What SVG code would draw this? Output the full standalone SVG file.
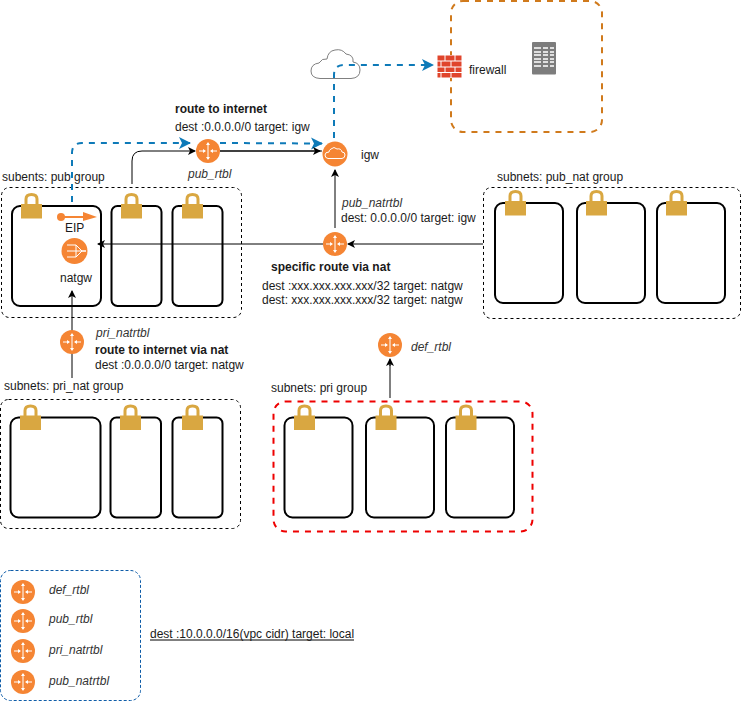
<svg xmlns="http://www.w3.org/2000/svg" xmlns:xlink="http://www.w3.org/1999/xlink" width="743" height="702" viewBox="0 0 743 702">
<style>
text{font-family:"Liberation Sans",Arial,sans-serif;font-size:12px;fill:#1a1a1a}
.i{font-style:italic;fill:#333}
.b{font-weight:bold}
.grp{fill:none;stroke:#000;stroke-width:1;stroke-dasharray:3 3}
.sub{fill:#fff;stroke:#000;stroke-width:2}
.blue{fill:none;stroke:#0e7ab8;stroke-width:2;stroke-dasharray:6 6}
.blk{fill:none;stroke:#000;stroke-width:1}
</style>
<defs>
<marker id="a" markerWidth="10" markerHeight="10" refX="7" refY="4" orient="auto" markerUnits="userSpaceOnUse"><path d="M0 0L8 4L0 8L2 4Z" fill="#000"/></marker>
<marker id="b" markerWidth="14" markerHeight="14" refX="11" refY="6" orient="auto" markerUnits="userSpaceOnUse"><path d="M0 0L12 6L0 12L3 6Z" fill="#0e7ab8"/></marker>
<g id="lock"><path d="M5 12V6Q5 1.500 10.500 1.500Q16 1.500 16 6V12" fill="none" stroke="#d9a741" stroke-width="3"/><rect x="0" y="11" width="21" height="14.500" fill="#d9a741"/></g>
<g id="rt"><circle r="12" fill="#f58534"/><path d="M0-8V8M-9 0H-3M9 0H3" stroke="#fff" stroke-width="1" fill="none"/><path d="M0-9L-2-6H2ZM0 9L-2 6H2ZM-2 0L-5-2V2ZM2 0L5-2V2Z" fill="#fff"/></g>
</defs>

<g id="fw-group"><rect x="451" y="1" width="151" height="131" rx="12" fill="none" stroke="#d07a1c" stroke-width="2" stroke-dasharray="6 6"/></g>

<g id="pub-group"><text x="2" y="181">subents: pub group</text><rect class="grp" x="1.500" y="187.500" width="240" height="130" rx="8"/>
<rect class="sub" x="12" y="206" width="89" height="100" rx="8"/><rect class="sub" x="111.500" y="206" width="50" height="100" rx="6"/><rect class="sub" x="172.500" y="206" width="50" height="100" rx="6"/>
<use xlink:href="#lock" href="#lock" x="21" y="193"/><use xlink:href="#lock" href="#lock" x="121" y="193"/><use xlink:href="#lock" href="#lock" x="182" y="193"/></g>

<g id="pubnat-group"><text x="497" y="181">subnets: pub_nat group</text><rect class="grp" x="483.500" y="187.500" width="257" height="131" rx="8"/>
<rect class="sub" x="495" y="203" width="68" height="100" rx="8"/><rect class="sub" x="577" y="203" width="68" height="100" rx="8"/><rect class="sub" x="657" y="203" width="68" height="100" rx="8"/>
<use xlink:href="#lock" href="#lock" x="505" y="190"/><use xlink:href="#lock" href="#lock" x="586" y="190"/><use xlink:href="#lock" href="#lock" x="666" y="190"/></g>

<g id="prinat-group"><text x="4" y="390">subnets: pri_nat group</text><rect class="grp" x="0.500" y="399.500" width="240" height="129" rx="8"/>
<rect class="sub" x="10.500" y="417.500" width="90" height="100" rx="8"/><rect class="sub" x="110.500" y="417.500" width="50.500" height="100" rx="6"/><rect class="sub" x="172.500" y="417.500" width="50" height="100" rx="6"/>
<use xlink:href="#lock" href="#lock" x="20" y="404.500"/><use xlink:href="#lock" href="#lock" x="120" y="404.500"/><use xlink:href="#lock" href="#lock" x="182" y="404.500"/></g>

<g id="pri-group"><text x="271" y="392">subnets: pri group</text><rect x="273.500" y="401.500" width="259" height="130" rx="12" fill="none" stroke="#e00" stroke-width="2" stroke-dasharray="6 6"/>
<rect class="sub" x="284.500" y="417.500" width="68" height="100" rx="8"/><rect class="sub" x="366" y="417.500" width="68" height="100" rx="8"/><rect class="sub" x="446" y="417.500" width="68" height="100" rx="8"/>
<use xlink:href="#lock" href="#lock" x="294" y="404.500"/><use xlink:href="#lock" href="#lock" x="375.500" y="404.500"/><use xlink:href="#lock" href="#lock" x="455.500" y="404.500"/></g>

<g id="cloud"><path d="M320 78.500H351Q360 78 360 70Q360 63 353 62Q354 55 346 54Q342 48.500 335 50Q328 51 327 59Q322 58 319 63Q311 64 311 71Q311 78 320 78.500Z" fill="#fff" stroke="#808080" stroke-width="1"/></g>

<g id="connectors">
<path class="blue" d="M72 202V153Q72 143 82 143H190" marker-end="url(#b)"/>
<path class="blue" d="M220 143L322 143.500" marker-end="url(#b)"/>
<path class="blue" d="M334 138V75Q334 65 344 65H433" marker-end="url(#b)"/>
<path class="blk" d="M132 184V161Q132 151 142 151H195" marker-end="url(#a)"/>
<path d="M220 151H322" fill="none" stroke="#808080" stroke-width="2"/>
<path class="blk" d="M220 151H320" marker-end="url(#a)"/>
<path class="blk" d="M335 228V170" marker-end="url(#a)"/>
<path class="blk" d="M483 244H348" marker-end="url(#a)"/>
<path class="blk" d="M323 244H98" marker-end="url(#a)"/>
<path class="blk" d="M72 378V291" marker-end="url(#a)"/>
<path d="M390 398V364" fill="none" stroke="#808080" stroke-width="2"/>
<path class="blk" d="M390 366V359" marker-end="url(#a)"/>
<path class="blk" d="M150 640H354"/>
</g>

<g id="firewall"><rect x="437" y="55" width="25" height="23" fill="#fff"/><path d="M437.500 55.500h24v22h-24z" fill="#e0452c"/><path d="M437 61H462M437 67H462M437 72.500H462M445 55V61M455 55V61M441 61V67M451 61V67M445 67V72.500M455 67V72.500M441 72.500V78M451 72.500V78" stroke="#fff" stroke-width="1" fill="none"/><text x="469" y="74">firewall</text></g>
<g id="server"><rect x="532" y="42" width="24" height="32.500" rx="1" fill="#7d7d7d"/><path d="M534 48H541M543 48H548M550 48H554M534 52H541M543 52H548M550 52H554M534 55H541M543 55H548M550 55H554M534 59H541M543 59H548M550 59H554M534 62H541M543 62H548M550 62H554M534 66H541M543 66H548M550 66H554" stroke="#fff" stroke-width="1.500"/></g>

<g id="rt-pub"><use xlink:href="#rt" href="#rt" x="208" y="151"/><text class="i" x="188" y="178">pub_rtbl</text></g>
<g id="route-internet"><text class="b" x="175" y="113">route to internet</text><text x="175" y="131">dest :0.0.0.0/0 target: igw</text></g>
<g id="igw"><circle cx="335" cy="154" r="12.500" fill="#f58534"/><path d="M328 158.500H342Q345 158 345 155Q345 152 342 152Q341 148 337 149Q334 146 331 149Q329 150 329 152Q325 152 325 155Q325 158 328 158.500Z" fill="none" stroke="#fff" stroke-width="1"/><text x="361" y="159">igw</text></g>

<g id="eip"><path d="M61 217H88" stroke="#f58534" stroke-width="2" fill="none"/><circle cx="61" cy="217" r="4" fill="#f58534"/><path d="M83 212L97 217L83 221Z" fill="#f58534"/><text x="65" y="232">EIP</text></g>
<g id="natgw"><circle cx="74.500" cy="251" r="13" fill="#f58534"/><path d="M67 245H76L82 251H86M67 251H86M67 257H76L82 251M76 245V257" stroke="#fff" stroke-width="1" fill="none"/><text x="60" y="282">natgw</text></g>

<g id="rt-pubnat"><use xlink:href="#rt" href="#rt" x="335" y="244"/><text class="i" x="342" y="207">pub_natrtbl</text><text x="341" y="222">dest: 0.0.0.0/0 target: igw</text></g>
<g id="route-specific"><text class="b" x="271" y="271">specific route via nat</text><text x="262" y="290">dest :xxx.xxx.xxx.xxx/32 target: natgw</text><text x="262" y="304">dest: xxx.xxx.xxx.xxx/32 target: natgw</text></g>

<g id="rt-prinat"><use xlink:href="#rt" href="#rt" x="72" y="342"/><text class="i" x="96" y="337">pri_natrtbl</text><text class="b" x="95" y="354">route to internet via nat</text><text x="95" y="369">dest :0.0.0.0/0 target: natgw</text></g>

<g id="rt-def"><use xlink:href="#rt" href="#rt" x="390" y="345"/><text class="i" x="411" y="351">def_rtbl</text></g>

<g id="legend"><rect x="0.500" y="570.500" width="140" height="130" rx="10" fill="none" stroke="#0e5ca8" stroke-width="1" stroke-dasharray="3 2"/>
<use xlink:href="#rt" href="#rt" x="23" y="592"/><use xlink:href="#rt" href="#rt" x="23" y="621"/><use xlink:href="#rt" href="#rt" x="23" y="651"/><use xlink:href="#rt" href="#rt" x="23" y="682"/>
<text class="i" x="49" y="594">def_rtbl</text><text class="i" x="49" y="623">pub_rtbl</text><text class="i" x="49" y="654">pri_natrtbl</text><text class="i" x="49" y="685">pub_natrtbl</text></g>
<g id="local"><text x="150" y="638">dest :10.0.0.0/16(vpc cidr) target: local</text></g>
</svg>
